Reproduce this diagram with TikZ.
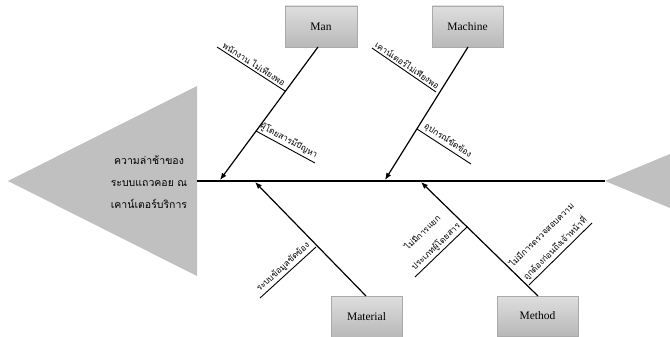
\documentclass[tikz,border=0pt]{standalone}
\usepackage{fontspec}
\setmainfont{Liberation Serif}
\newfontfamily\thaifont[Script=Thai]{Loma}
\usetikzlibrary{arrows.meta}
\definecolor{headgray}{RGB}{192,192,192}
\definecolor{boxtop}{RGB}{222,222,222}
\definecolor{boxbot}{RGB}{184,184,184}
\definecolor{boxline}{RGB}{170,170,170}
\begin{document}
\begin{tikzpicture}[x=1pt,y=-1pt,
  cat/.style={draw=boxline, line width=0.4pt, top color=boxtop, bottom color=boxbot,
    inner sep=0pt, font=\fontsize{11.5}{13}\selectfont},
  bone/.style={line width=1.2pt, -{Latex[length=7pt,width=5.5pt]}},
  spine/.style={line width=1.5pt},
  sub/.style={line width=0.9pt},
  lab/.style={font=\thaifont\fontsize{8.5}{12}\selectfont, sloped, above, inner sep=2pt, align=center},
  headtext/.style={font=\thaifont\fontsize{10.5}{22}\selectfont, align=center, inner sep=0pt}
]
\useasboundingbox (0,0) rectangle (670,337);
\fill[white] (0,0) rectangle (670,337);

% head and tail
\fill[headgray] (8,181) -- (197,86) -- (197,276) -- cycle;
\fill[headgray] (605,181) -- (670,154) -- (670,208) -- cycle;
\node[headtext] (head) at (149,182) {ความล่าช้าของ\\ระบบแถวคอย ณ\\เคาน์เตอร์บริการ};

% spine
\coordinate (sL) at (197,181);
\coordinate (sR) at (605,181);
\draw[spine] (sL) -- (sR);

% category boxes
\node[cat, minimum width=72pt, minimum height=41pt] (man) at (321,26.5) {Man};
\node[cat, minimum width=71pt, minimum height=41pt] (machine) at (467.5,26.5) {Machine};
\node[cat, minimum width=71pt, minimum height=41pt] (material) at (366.5,316.5) {Material};
\node[cat, minimum width=81pt, minimum height=40pt] (method) at (537.5,316) {Method};

% bones
\coordinate (manTop) at (318,47);
\coordinate (manTip) at (220,180);
\coordinate (macTop) at (468,47);
\coordinate (macTip) at (385,180);
\coordinate (matBot) at (366,296);
\coordinate (matTip) at (255,182);
\coordinate (metBot) at (538,296);
\coordinate (metTip) at (421,182);
\draw[bone] (manTop) -- (manTip);
\draw[bone] (macTop) -- (macTip);
\draw[bone] (matBot) -- (matTip);
\draw[bone] (metBot) -- (metTip);

% sub-causes
\coordinate (m1a) at (217,47);  \coordinate (m1b) at (285,91);
\coordinate (m2a) at (256,131); \coordinate (m2b) at (315,163);
\coordinate (c1a) at (372,48);  \coordinate (c1b) at (436,92);
\coordinate (c2a) at (417,129); \coordinate (c2b) at (471,164);
\coordinate (t1a) at (260,298); \coordinate (t1b) at (316,247);
\coordinate (d1a) at (415,277); \coordinate (d1b) at (467,227);
\coordinate (d2a) at (529,285); \coordinate (d2b) at (592,223);

\draw[sub] (m1a) -- node[lab] {พนักงาน ไม่เพียงพอ} (m1b);
\draw[sub] (m2a) -- node[lab] {ผู้โดยสารมีปัญหา} (m2b);
\draw[sub] (c1a) -- node[lab] {เคาน์เตอร์ไม่เพียงพอ} (c1b);
\draw[sub] (c2a) -- node[lab] {อุปกรณ์ขัดข้อง} (c2b);
\draw[sub] (t1a) -- node[lab] {ระบบข้อมูลขัดข้อง} (t1b);
\draw[sub] (d1a) -- node[lab] {ไม่มีการแยก\\[7pt]ประเภทผู้โดยสาร} (d1b);
\draw[sub] (d2a) -- node[lab] {ไม่มีการตรวจสอบความ\\[7pt]ถูกต้องก่อนถึงเจ้าหน้าที่} (d2b);
\end{tikzpicture}
\end{document}
